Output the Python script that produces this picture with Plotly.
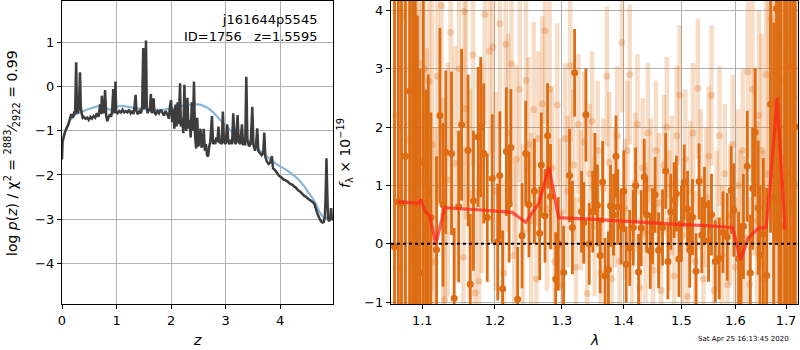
import numpy as np
import plotly.graph_objects as go

# ---- left panel: redshift probability ----
z_grid = [0.00, 0.01, 0.03, 0.05, 0.08, 0.11, 0.14, 0.17, 0.20, 0.22, 0.24, 0.26, 0.275, 0.29, 0.31, 0.33,
          0.345, 0.36, 0.38, 0.40, 0.43, 0.46, 0.49, 0.52, 0.55, 0.58, 0.61, 0.64, 0.67, 0.70, 0.72, 0.73,
          0.75, 0.77, 0.79, 0.81, 0.83, 0.85, 0.88, 0.90, 0.92, 0.94, 0.955, 0.97, 0.98, 0.995, 1.02, 1.05,
          1.08, 1.11, 1.14, 1.17, 1.20, 1.23, 1.26, 1.29, 1.31, 1.33, 1.35, 1.365, 1.39, 1.42, 1.45, 1.47,
          1.49, 1.505, 1.52, 1.54, 1.555, 1.57, 1.59, 1.61, 1.63, 1.645, 1.66, 1.68, 1.695, 1.72, 1.75, 1.78,
          1.81, 1.84, 1.87, 1.90, 1.93, 1.96, 1.98, 2.00, 2.02, 2.04, 2.06, 2.08, 2.10, 2.12, 2.14, 2.165,
          2.18, 2.20, 2.225, 2.245, 2.26, 2.28, 2.30, 2.32, 2.34, 2.36, 2.38, 2.40, 2.42, 2.44, 2.46, 2.48,
          2.50, 2.52, 2.54, 2.56, 2.58, 2.60, 2.62, 2.64, 2.66, 2.68, 2.70, 2.72, 2.75, 2.77, 2.79, 2.81,
          2.83, 2.85, 2.87, 2.89, 2.91, 2.93, 2.95, 2.97, 3.00, 3.03, 3.05, 3.07, 3.10, 3.12, 3.14, 3.17,
          3.19, 3.22, 3.24, 3.27, 3.30, 3.32, 3.36, 3.38, 3.40, 3.43, 3.46, 3.49, 3.51, 3.54, 3.56, 3.58,
          3.60, 3.63, 3.66, 3.69, 3.71, 3.73, 3.76, 3.79, 3.82, 3.85, 3.87, 3.90, 3.94, 3.98, 4.02, 4.06,
          4.10, 4.14, 4.18, 4.22, 4.26, 4.30, 4.33, 4.36, 4.40, 4.44, 4.48, 4.52, 4.56, 4.60, 4.63, 4.66,
          4.69, 4.72, 4.75, 4.78, 4.80, 4.82, 4.835, 4.85, 4.865, 4.88, 4.90, 4.92, 4.935, 4.95, 4.97]
log_pz = [-1.65, -1.25, -1.15, -1.05, -0.95, -0.88, -0.75, -0.62, -0.70, -0.60, -0.62, 0.56, -0.55, -0.60, -0.50, 0.33,
          -0.45, -0.60, -0.70, -0.68, -0.72, -0.70, -0.75, -0.68, -0.72, -0.66, -0.70, -0.60, -0.68, -0.40, -0.62, -0.20,
          -0.55, -0.60, -0.07, -0.65, -0.78, -0.70, -0.62, -0.68, -0.55, -0.05, -0.60, -0.50, 0.12, -0.58, -0.60, -0.55,
          -0.58, -0.52, -0.58, -0.55, -0.58, -0.52, -0.60, -0.55, -0.62, -0.45, -0.18, -0.55, -0.62, -0.55, -0.60, -0.45,
          0.88, -0.50, -0.40, 1.05, -0.45, -0.60, -0.50, -0.55, -0.16, -0.60, -0.50, -0.26, -0.58, -0.62, -0.55, -0.60,
          -0.52, -0.58, -0.65, -0.55, -0.62, -0.72, -0.45, -0.30, -0.80, -0.50, -0.95, -0.40, -0.90, -0.35, -0.85, 0.08,
          -0.90, -0.70, -1.05, 0.05, -0.85, -1.00, -0.25, -0.95, -0.75, -1.15, -0.35, -1.00, 0.12, -1.10, -1.40, -0.70,
          -1.35, -1.25, -0.95, -1.38, -1.30, -0.95, -1.45, -1.30, -1.55, -1.58, -1.35, -1.25, -0.66, -1.30, -1.20, -1.30,
          -1.15, -1.25, -0.90, -1.28, -1.25, -1.30, -0.56, -1.25, -1.30, -0.85, -1.25, -1.30, -1.20, -1.30, -0.60, -1.25,
          -1.30, -0.64, -1.25, -1.30, -0.85, -1.30, -1.30, 0.23, -1.20, -1.35, -1.30, -0.45, -1.30, -1.45, -1.30, -0.94,
          -1.45, -1.50, -1.55, -1.50, -1.04, -1.60, -1.70, -1.75, -1.72, -1.57, -1.85, -1.88, -1.95, -2.02, -2.05, -2.10,
          -2.12, -2.15, -2.20, -2.22, -2.26, -2.30, -2.35, -2.37, -2.42, -2.47, -2.50, -2.55, -2.58, -2.62, -2.66, -2.78,
          -2.90, -2.98, -3.05, -3.08, -3.07, -2.95, -2.50, -1.62, -2.40, -3.00, -3.05, -3.00, -2.75, -3.02, -3.00]

z_chi = [0.00, 0.055, 0.15, 0.25, 0.33, 0.45, 0.60, 0.73, 0.80, 0.88, 0.96, 1.06, 1.15, 1.25, 1.40, 1.55, 1.70,
         1.85, 1.95, 2.05, 2.15, 2.25, 2.35, 2.45, 2.55, 2.65, 2.75, 2.85, 2.95, 3.02, 3.10, 3.20, 3.30, 3.39,
         3.50, 3.60, 3.70, 3.76, 3.85, 3.95, 4.05, 4.12, 4.20, 4.30, 4.37, 4.45, 4.52, 4.58, 4.63, 4.68, 4.72,
         4.76, 4.80, 4.86, 4.92, 4.97]
log_chi = [-1.30, -1.00, -0.75, -0.62, -0.58, -0.52, -0.46, -0.41, -0.48, -0.52, -0.47, -0.43, -0.44, -0.46, -0.49,
           -0.51, -0.52, -0.52, -0.50, -0.48, -0.45, -0.42, -0.40, -0.39, -0.41, -0.46, -0.55, -0.68, -0.82, -0.90,
           -1.00, -1.08, -1.15, -1.20, -1.30, -1.42, -1.52, -1.58, -1.68, -1.77, -1.84, -1.89, -1.96, -2.06, -2.15,
           -2.27, -2.40, -2.50, -2.60, -2.72, -2.84, -2.91, -2.96, -2.98, -2.95, -2.90]

# ---- right panel: spectrum (two grism orients + model) ----
lam_a = [1.064, 1.069, 1.073, 1.078, 1.0835, 1.0873, 1.0908, 1.0937, 1.0971, 1.1014, 1.1047, 1.108,
         1.1115, 1.119, 1.1235, 1.1276, 1.1314, 1.1392, 1.1428, 1.149, 1.153, 1.162, 1.165, 1.1695,
         1.176, 1.1797, 1.184, 1.189, 1.196, 1.204, 1.207, 1.211, 1.2165, 1.2205, 1.223, 1.233,
         1.2395, 1.245, 1.2498, 1.258, 1.266, 1.2685, 1.274, 1.278, 1.2825, 1.2905, 1.2945, 1.3028,
         1.312, 1.3165, 1.320, 1.331, 1.3345, 1.338, 1.3433, 1.349, 1.3525, 1.3565, 1.361, 1.365,
         1.369, 1.3745, 1.378, 1.383, 1.387, 1.390, 1.3956, 1.400, 1.404, 1.410, 1.416, 1.420,
         1.425, 1.4295, 1.4347, 1.439, 1.445, 1.449, 1.4535, 1.4595, 1.4665, 1.472, 1.476, 1.481,
         1.487, 1.491, 1.4955, 1.500, 1.505, 1.5111, 1.515, 1.520, 1.5265, 1.532, 1.537, 1.542,
         1.5495, 1.555, 1.562, 1.5695, 1.5765, 1.5845, 1.592, 1.597, 1.6063, 1.611, 1.6155, 1.623,
         1.6288, 1.6335, 1.6385, 1.6443, 1.648, 1.6545, 1.661, 1.6688, 1.675, 1.6808, 1.686, 1.690,
         1.697, 1.7025, 1.708, 1.7135, 1.719]
flux_a = [-0.05, 0.72, 0.70, 1.50, 2.62, -0.26, 2.68, 0.41, -0.50, 1.40, 0.14, 0.90,
          0.45, -0.10, 2.20, 0.67, 1.57, 1.55, -0.93, 0.64, 2.04, 1.60, -0.69, 0.74,
          1.83, 2.00, 1.55, 0.45, 1.12, 0.03, 1.17, -0.77, 1.58, 0.68, 1.65, -0.95,
          0.14, 1.55, 0.67, 0.90, 0.18, 1.35, 0.48, 1.85, 0.81, -0.60, 0.00, -0.49,
          1.17, 0.28, 2.93, 0.55, 0.36, 2.21, 0.00, 0.55, 1.20, 0.66, -0.20, 1.06,
          -0.55, -0.44, 0.65, 0.50, 1.50, 0.63, 0.30, 0.90, -0.35, -0.07, 0.28, 1.00,
          -0.48, 0.27, 1.15, 0.50, -0.12, 0.30, 0.84, -0.11, 0.28, 1.25, -0.30, 0.55,
          0.75, 0.86, -0.26, 0.35, 1.05, 0.60, -0.10, 0.46, -0.47, 1.07, 0.15, 0.67,
          0.05, 0.50, -0.30, -0.25, 0.20, 0.12, 0.92, 0.58, -0.25, -0.50, 0.30, 1.33,
          -0.50, 0.95, 1.91, 0.62, -0.20, 0.17, -0.54, 2.39, 0.79, 4.03, 2.00, 1.05,
          0.30, 1.21, 3.04, 0.70, 2.00]
err_a = [5.0, 5.0, 5.0, 5.0, 4.5, 4.5, 4.0, 3.5, 3.5, 3.0, 2.5, 2.0,
         1.8, 1.6, 1.5, 1.4, 1.4, 1.4, 1.2, 1.3, 1.3, 1.3, 1.2, 1.2,
         1.2, 1.2, 1.2, 1.1, 1.1, 1.0, 1.1, 1.0, 1.1, 1.0, 1.0, 0.9,
         0.9, 0.9, 0.9, 0.9, 0.8, 0.9, 0.8, 0.9, 0.9, 0.8, 0.8, 0.8,
         0.8, 0.8, 0.75, 0.7, 0.7, 0.8, 0.7, 0.7, 0.7, 0.7, 0.65, 0.7,
         0.65, 0.65, 0.7, 0.7, 0.7, 0.65, 0.65, 0.7, 0.65, 0.65, 0.65, 0.65,
         0.65, 0.65, 0.65, 0.65, 0.65, 0.65, 0.65, 0.65, 0.65, 0.65, 0.65, 0.65,
         0.65, 0.65, 0.65, 0.65, 0.65, 0.65, 0.65, 0.65, 0.65, 0.65, 0.65, 0.65,
         0.7, 0.7, 0.7, 0.7, 0.7, 0.75, 0.75, 0.8, 0.8, 0.85, 0.9, 0.95,
         1.0, 1.05, 1.1, 1.15, 1.2, 1.3, 1.5, 2.2, 3.0, 4.0, 4.0, 4.5,
         4.5, 5.0, 5.0, 5.0, 5.0]

lam_b = [1.066, 1.071, 1.076, 1.081, 1.086, 1.089, 1.092, 1.095, 1.099, 1.1025, 1.106, 1.109, 1.113, 1.117,
         1.120, 1.1255, 1.128, 1.130, 1.134, 1.138, 1.1437, 1.1495, 1.1555, 1.157, 1.159, 1.1645, 1.169, 1.1718,
         1.1773, 1.181, 1.1855, 1.1925, 1.197, 1.201, 1.207, 1.2125, 1.2155, 1.219, 1.224, 1.228, 1.231, 1.236,
         1.241, 1.2455, 1.249, 1.253, 1.257, 1.261, 1.264, 1.270, 1.274, 1.277, 1.281, 1.285, 1.289, 1.293,
         1.297, 1.301, 1.305, 1.309, 1.313, 1.318, 1.322, 1.326, 1.330, 1.335, 1.340, 1.344, 1.348, 1.352,
         1.357, 1.362, 1.366, 1.372, 1.376, 1.380, 1.385, 1.389, 1.393, 1.397, 1.402, 1.406, 1.410, 1.414,
         1.419, 1.423, 1.427, 1.432, 1.437, 1.441, 1.446, 1.450, 1.455, 1.460, 1.464, 1.469, 1.474, 1.478,
         1.483, 1.487, 1.492, 1.497, 1.502, 1.507, 1.511, 1.516, 1.521, 1.525, 1.530, 1.535, 1.540, 1.545,
         1.550, 1.555, 1.560, 1.565, 1.570, 1.575, 1.580, 1.585, 1.590, 1.595, 1.600, 1.605, 1.610, 1.614,
         1.619, 1.624, 1.628, 1.633, 1.637, 1.642, 1.646, 1.651, 1.655, 1.660, 1.665, 1.670, 1.676, 1.681,
         1.687, 1.692, 1.698, 1.704, 1.710, 1.716, 1.721]
flux_b = [2.20, -0.40, 3.90, 1.80, 0.26, -0.20, 2.40, 3.10, 1.10, 3.00, 0.35, 2.78, 1.70, -0.30,
          2.87, 4.08, 0.50, -0.95, 1.10, 3.62, 1.38, 3.00, -0.23, 3.98, 2.32, 0.86, 3.24, -0.84,
          -0.64, 1.30, 3.93, 3.30, 3.37, 0.90, 3.77, -0.50, 3.42, 1.90, 3.08, -0.20, 1.45, 2.65,
          0.20, 2.80, 1.70, 0.40, 2.30, -0.60, 1.80, 2.40, 3.65, 0.60, 2.65, 1.30, -0.30, 2.38,
          0.50, -0.70, 1.80, 0.90, 3.05, 1.35, -0.40, 2.05, 0.75, 1.75, -0.85, 1.20, 2.10, 0.30,
          1.60, -0.50, 0.95, 2.87, 1.40, -0.60, 0.80, 1.85, -0.30, 3.45, 0.60, 1.60, 2.90, -0.20,
          1.05, 2.05, -0.75, 1.30, 0.20, 1.90, 0.95, -0.45, 1.60, 0.70, -0.80, 1.35, 2.00, 0.40,
          1.00, -0.55, 1.85, 2.55, 0.15, 1.45, -0.90, 0.90, 1.90, -0.30, 2.66, 1.10, -0.60, 0.80,
          1.50, 2.54, -0.80, 0.40, 1.85, -0.20, 1.20, -0.70, 0.50, 1.70, -0.40, 1.00, 0.20, 1.60,
          0.10, 2.95, -0.70, 2.65, 1.40, 0.40, 2.20, 1.60, -0.60, 2.90, 1.20, 3.85, 2.00, 3.50,
          0.50, 2.80, 1.50, 3.50, 0.20, 2.50, 1.00]
err_b = [5.0, 5.0, 5.0, 5.0, 4.5, 4.5, 4.0, 4.0, 3.5, 3.0, 3.0, 2.5, 2.5, 2.3,
         2.2, 2.2, 2.0, 2.0, 2.0, 2.0, 2.0, 2.0, 1.9, 2.0, 1.9, 1.8, 1.9, 1.8,
         1.8, 1.8, 1.9, 1.8, 1.8, 1.7, 1.8, 1.6, 1.8, 1.7, 1.7, 1.6, 1.6, 1.6,
         1.5, 1.6, 1.5, 1.5, 1.5, 1.4, 1.5, 1.5, 1.6, 1.4, 1.5, 1.4, 1.3, 1.4,
         1.3, 1.3, 1.3, 1.3, 1.3, 1.3, 1.2, 1.2, 1.2, 1.2, 1.2, 1.2, 1.2, 1.2,
         1.2, 1.2, 1.2, 1.2, 1.2, 1.2, 1.2, 1.2, 1.2, 1.2, 1.2, 1.2, 1.2, 1.2,
         1.2, 1.2, 1.2, 1.2, 1.2, 1.2, 1.2, 1.2, 1.2, 1.2, 1.2, 1.2, 1.2, 1.2,
         1.2, 1.2, 1.2, 1.2, 1.2, 1.2, 1.2, 1.2, 1.2, 1.2, 1.2, 1.2, 1.2, 1.2,
         1.2, 1.2, 1.2, 1.2, 1.2, 1.2, 1.2, 1.2, 1.2, 1.2, 1.2, 1.3, 1.4, 1.4,
         1.4, 1.5, 1.5, 1.6, 1.6, 1.7, 1.8, 2.0, 2.2, 2.5, 3.0, 3.5, 4.0, 4.5,
         5.0, 5.0, 5.0, 5.0, 5.0, 5.0, 5.0]

lam_model = [1.068, 1.080, 1.095, 1.098, 1.104, 1.110, 1.118, 1.130, 1.180, 1.225, 1.245, 1.265, 1.280,
             1.295, 1.350, 1.400, 1.450, 1.500, 1.550, 1.595, 1.610, 1.625, 1.645, 1.660, 1.668, 1.682, 1.698]
flux_model = [0.72, 0.71, 0.70, 0.76, 0.55, 0.48, 0.00, 0.62, 0.58, 0.54, 0.37, 0.70, 1.32,
              0.45, 0.42, 0.39, 0.36, 0.33, 0.31, 0.28, -0.27, 0.10, 0.27, 0.28, 1.00, 2.50, 0.25]

FONT = "DejaVu Sans"
ORANGE = "#dd6c12"

fig = go.Figure()

fig.add_trace(go.Scatter(x=z_chi, y=log_chi, mode="lines",
                         line=dict(color="#88b6db", width=2.2, simplify=False),
                         xaxis="x", yaxis="y", showlegend=False))
fig.add_trace(go.Scatter(x=z_grid, y=log_pz, mode="lines",
                         line=dict(color="#3d3d3d", width=2.5, simplify=False),
                         xaxis="x", yaxis="y", showlegend=False))

fig.add_trace(go.Scatter(x=lam_b, y=flux_b, mode="markers",
                         marker=dict(color="rgba(221,108,18,0.28)", size=7, line=dict(width=0)),
                         error_y=dict(type="data", array=err_b, color="rgba(221,108,18,0.24)",
                                      thickness=4.5, width=0),
                         xaxis="x2", yaxis="y2", showlegend=False))
fig.add_trace(go.Scatter(x=lam_a, y=flux_a, mode="markers",
                         marker=dict(color=ORANGE, size=7, line=dict(width=0)),
                         error_y=dict(type="data", array=err_a, color=ORANGE, thickness=2.8, width=0),
                         xaxis="x2", yaxis="y2", showlegend=False))
fig.add_trace(go.Scatter(x=lam_model, y=flux_model, mode="lines",
                         line=dict(color="rgba(255,35,25,0.72)", width=3.2, simplify=False),
                         xaxis="x2", yaxis="y2", showlegend=False))

fig.add_shape(type="line", xref="x2 domain", yref="y2", x0=0, x1=1, y0=0, y1=0,
              line=dict(color="black", width=2, dash="dot"))

axis_common = dict(showline=True, mirror=True, linecolor="black", linewidth=1.3,
                   ticks="outside", ticklen=4, tickcolor="black", tickwidth=1.1,
                   showgrid=True, gridcolor="#b0b0b0", gridwidth=1, zeroline=False,
                   tickfont=dict(family=FONT, size=13, color="black"), automargin=False)

ydom = [1 - 304 / 350, 1 - 1 / 350]
fig.update_layout(
    width=800, height=350, margin=dict(l=0, r=0, t=0, b=0),
    paper_bgcolor="white", plot_bgcolor="white",
    xaxis=dict(domain=[62 / 800, 333 / 800], range=[0, 4.97], tickvals=[0, 1, 2, 3, 4], **axis_common),
    yaxis=dict(domain=ydom, range=[-4.93, 1.95], tickvals=[-4, -3, -2, -1, 0, 1], **axis_common),
    xaxis2=dict(domain=[391 / 800, 798 / 800], type="log", range=[np.log10(1.0596), np.log10(1.7246)],
                tickvals=[1.1, 1.2, 1.3, 1.4, 1.5, 1.6, 1.7],
                ticktext=["1.1", "1.2", "1.3", "1.4", "1.5", "1.6", "1.7"], anchor="y2", **axis_common),
    yaxis2=dict(domain=ydom, range=[-1.03, 4.16], tickvals=[-1, 0, 1, 2, 3, 4], anchor="x2", **axis_common),
)


def label(x_px, y_px, text, size=14, angle=0, xanchor="center", yanchor="middle", align="center"):
    fig.add_annotation(x=x_px / 800, y=1 - y_px / 350, xref="paper", yref="paper",
                       xanchor=xanchor, yanchor=yanchor, align=align, textangle=angle,
                       text=text, showarrow=False, font=dict(family=FONT, size=size, color="black"))


label(319, 10, "j161644p5545<br>ID=1756   z=1.5595", size=13, xanchor="right", yanchor="top", align="right")
label(12, 153, "log <i>p</i>(<i>z</i>) / χ<sup>2</sup> = <sup>2883</sup>⁄<sub>2922</sub> = 0.99", angle=-90)
label(345, 153, "<i>f</i><sub>λ</sub> × 10<sup>−19</sup>", angle=-90)
label(197, 340, "<i>z</i>")
label(594, 340, "<i>λ</i>")
label(743, 339, "Sat Apr 25 16:13:45 2020", size=7)

fig.write_html("out.html")
